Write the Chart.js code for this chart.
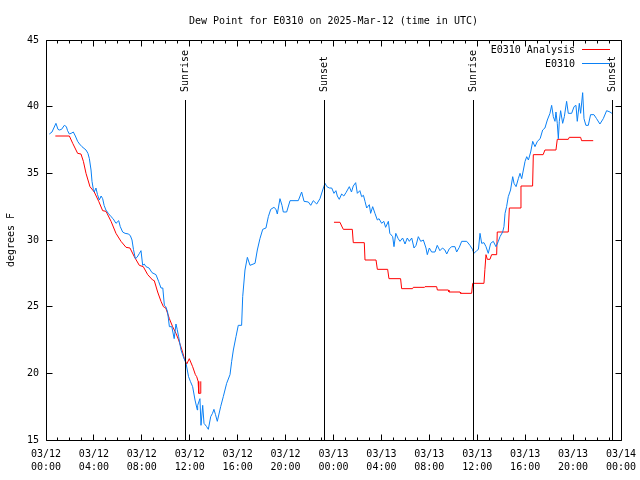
<!DOCTYPE html>
<html>
<head>
<meta charset="utf-8">
<title>Dew Point for E0310</title>
<script src="https://cdn.jsdelivr.net/npm/chart.js@4.4.1/dist/chart.umd.min.js"></script>
<style>
  html, body { margin: 0; padding: 0; background: #fff; }
</style>
</head>
<body>
<canvas id="dewChart" width="640" height="480"></canvas>
<script>
// dew point chart, hours since 03/12 00:00 UTC on x

const titleText = 'Dew Point for E0310 on 2025-Mar-12 (time in UTC)';

// station obs (E0310)
const obsHours = [0.28, 0.5, 0.83, 1.0, 1.11, 1.3, 1.53, 1.7, 1.8, 1.95, 2.1, 2.28, 2.45, 2.64, 2.8, 3.0, 3.34, 3.5, 3.62, 3.76,
  3.84, 3.95, 4.03, 4.17, 4.3, 4.45, 4.6, 4.73, 4.85, 5.0, 5.2, 5.43, 5.6, 5.84, 6.07, 6.2, 6.4, 6.6, 6.9, 7.05,
  7.18, 7.3, 7.46, 7.6, 7.8, 7.93, 8.07, 8.2, 8.35, 8.6, 8.85, 9.18, 9.4, 9.6, 9.75, 9.88, 10.0, 10.15, 10.3, 10.5,
  10.7, 10.85, 10.95, 11.07, 11.27, 11.46, 11.69, 11.9, 12.05, 12.24, 12.44, 12.63, 12.66, 12.85, 12.94, 13.08, 13.19, 13.41, 13.55, 13.75,
  13.9, 14.02, 14.15, 14.3, 14.58, 14.8, 15.08, 15.36, 15.5, 15.64, 15.86, 16.05, 16.33, 16.42, 16.61, 16.81, 17.03, 17.45, 17.64, 17.86,
  18.09, 18.36, 18.56, 18.76, 19.03, 19.2, 19.31, 19.53, 19.7, 19.81, 20.09, 20.37, 21.06, 21.34, 21.54, 21.9, 22.1, 22.31, 22.6, 22.87,
  23.1, 23.29, 23.45, 23.65, 23.85, 24.04, 24.2, 24.32, 24.48, 24.68, 24.86, 25.04, 25.32, 25.5, 25.65, 25.85, 25.99, 26.2, 26.35, 26.5,
  26.63, 26.77, 26.99, 27.1, 27.27, 27.46, 27.66, 27.8, 28.02, 28.2, 28.35, 28.58, 28.7, 28.94, 29.05, 29.2, 29.4, 29.55, 29.77, 29.97,
  30.16, 30.33, 30.53, 30.72, 30.89, 31.08, 31.28, 31.5, 31.72, 31.83, 32.0, 32.19, 32.47, 32.66, 32.88, 33.1, 33.3, 33.45, 33.67, 33.87,
  34.14, 34.28, 34.5, 34.7, 35.12, 35.39, 35.6, 35.73, 35.95, 36.1, 36.23, 36.37, 36.56, 36.73, 36.92, 37.12, 37.34, 37.56, 37.76, 37.9,
  38.12, 38.23, 38.32, 38.45, 38.59, 38.78, 38.96, 39.07, 39.24, 39.43, 39.57, 39.71, 39.85, 39.99, 40.13, 40.27, 40.46, 40.63, 40.82, 41.02,
  41.25, 41.46, 41.65, 41.85, 42.07, 42.21, 42.35, 42.49, 42.57, 42.68, 42.77, 42.85, 42.96, 43.13, 43.27, 43.46, 43.6, 43.88, 44.08, 44.24,
  44.35, 44.52, 44.63, 44.8, 44.91, 45.07, 45.27, 45.46, 45.74, 45.96, 46.24, 46.52, 46.8, 47.08, 47.24];
const obsDew = [37.95, 38.1, 38.75, 38.3, 38.25, 38.3, 38.6, 38.5, 38.2, 37.95, 38.0, 38.1, 37.8, 37.4, 37.2, 37.0, 36.75, 36.5, 36.1, 35.25,
  34.4, 33.8, 33.6, 33.9, 33.4, 33.0, 33.3, 33.1, 32.6, 32.25, 32.0, 31.75, 31.6, 31.25, 31.45, 31.0, 30.6, 30.5, 30.45, 30.3,
  30.0, 29.3, 28.6, 28.7, 29.0, 29.2, 28.1, 28.2, 28.0, 27.9, 27.55, 27.4, 26.9, 26.4, 26.4, 25.1, 25.0, 24.6, 23.5, 23.5,
  22.6, 23.7, 23.3, 22.75, 21.75, 21.25, 20.75, 19.75, 19.4, 19.0, 18.0, 17.25, 17.6, 18.1, 16.1, 17.6, 16.25, 16.0, 15.8, 16.75,
  17.0, 17.3, 16.9, 16.4, 17.5, 18.25, 19.25, 19.9, 20.9, 21.75, 22.75, 23.6, 23.6, 25.75, 27.75, 28.7, 28.1, 28.25, 29.25, 30.1,
  30.8, 30.9, 31.75, 32.3, 32.45, 32.3, 31.95, 33.1, 32.6, 32.1, 32.1, 32.95, 32.95, 33.6, 32.9, 32.85, 32.6, 32.95, 32.7, 33.1,
  33.75, 34.25, 34.0, 33.9, 33.9, 33.5, 33.7, 33.3, 33.05, 33.45, 33.3, 33.55, 34.0, 33.6, 34.05, 34.3, 33.5, 33.7, 33.25, 33.35,
  32.9, 32.4, 32.65, 32.0, 32.5, 32.0, 31.5, 31.6, 31.25, 31.4, 30.95, 31.4, 30.5, 30.25, 29.5, 30.5, 30.1, 29.9, 30.15, 29.7,
  30.15, 29.9, 30.15, 29.4, 29.6, 30.25, 29.9, 30.0, 29.4, 28.9, 29.4, 29.1, 29.1, 29.6, 29.2, 29.4, 29.25, 28.95, 29.35, 29.5,
  29.5, 29.1, 29.45, 29.9, 29.9, 29.6, 29.3, 29.0, 29.2, 29.3, 30.5, 29.75, 29.8, 29.5, 29.0, 29.75, 29.9, 29.5, 29.9, 30.25,
  30.6, 31.0, 32.0, 32.5, 33.25, 33.75, 34.75, 34.25, 34.0, 34.6, 35.0, 34.6, 35.25, 35.9, 36.25, 36.0, 36.6, 37.4, 37.0, 37.4,
  37.6, 38.25, 38.4, 39.0, 39.5, 40.1, 39.25, 38.9, 39.6, 38.75, 37.6, 38.9, 39.7, 38.75, 39.25, 40.4, 39.5, 39.5, 40.0, 40.1,
  38.9, 40.25, 39.5, 41.05, 39.1, 38.6, 38.6, 39.4, 39.4, 39.1, 38.7, 39.1, 39.7, 39.6, 39.5];

// analysis values (null = no data)
const anaHours = [0.78, 1.95, 2.23, 2.64, 2.92, 3.12, 3.34, 3.67, 4.03, 4.4, 4.73, 5.01, 5.43, 5.84, 6.26, 6.68, 7.01, 7.37, 7.79, 8.12,
  8.49, 8.9, 9.04, 9.32, 9.6, 9.8, 10.0, 10.3, 10.57, 10.85, 11.07, 11.35, 11.55, 11.75, 11.96, 12.24, 12.47, 12.58, 12.7, 12.75,
  12.88, 12.92, 18.0,
  24.04, 24.54, 24.68, 24.82, 25.57, 25.65, 26.57, 26.63, 27.55, 27.66, 28.52, 28.63, 29.6, 29.69, 30.6, 30.66, 31.6, 31.64, 32.61, 32.67,
  33.59, 33.64, 34.56, 34.61, 35.53, 35.62, 36.56, 36.64, 36.73, 36.84, 37.06, 37.2, 37.62, 37.67, 38.59, 38.68, 39.57, 39.65, 40.62, 40.68,
  41.5, 41.65, 42.57, 42.68, 43.6, 43.68, 44.63, 44.71, 45.68];
const anaDew = [37.8, 37.8, 37.25, 36.5, 36.45, 35.9, 35.0, 34.0, 33.6, 32.9, 32.2, 32.15, 31.4, 30.5, 29.9, 29.45, 29.4, 28.75, 28.1, 28.0,
  27.4, 27.0, 26.95, 26.1, 25.4, 25.0, 24.9, 24.1, 23.5, 23.0, 22.5, 21.75, 21.1, 20.7, 21.1, 20.5, 19.9, 19.75, 19.4, 18.5,
  18.5, 19.4, null,
  31.33, 31.33, 31.05, 30.8, 30.8, 29.8, 29.8, 28.5, 28.5, 27.8, 27.8, 27.1, 27.1, 26.35, 26.35, 26.45, 26.45, 26.5, 26.5, 26.25,
  26.25, 26.1, 26.1, 26.0, 26.0, 26.75, 26.75, 27.8, 28.9, 28.55, 28.55, 28.9, 28.9, 30.6, 30.6, 32.4, 32.4, 34.05, 34.05, 36.4,
  36.4, 36.75, 36.75, 37.55, 37.55, 37.7, 37.7, 37.45, 37.45];

// sunrise / sunset (hours)
const sunHours = [11.65, 23.25, 35.65, 47.3];
const sunNames = ['Sunrise', 'Sunset', 'Sunrise', 'Sunset'];

// axis labels
const dayLabels = ['03/12', '03/12', '03/12', '03/12', '03/12', '03/12', '03/13', '03/13', '03/13', '03/13', '03/13', '03/13', '03/14'];
const timeLabels = ['00:00', '04:00', '08:00', '12:00', '16:00', '20:00', '00:00', '04:00', '08:00', '12:00', '16:00', '20:00', '00:00'];
const yTicks = [15, 20, 25, 30, 35, 40, 45];

const FONT = "'DejaVu Sans Mono', 'Liberation Mono', monospace";
const RED = '#ff0000';
const BLUE = '#0a80f5';

function toPoints(xs, ys) {
    return xs.map((h, i) => ({ x: h, y: ys[i] }));
}

// gnuplot style frame, inward ticks, sun lines, key and title
const gnuplotLook = {
    id: 'gnuplotLook',
    afterDraw(chart) {
        const ctx = chart.ctx;
        const a = chart.chartArea;
        const xs = chart.scales.x;
        const ys = chart.scales.y;
        const L = Math.floor(a.left) + 0.5, R = Math.floor(a.right) + 0.5;
        const T = Math.floor(a.top) + 0.5, B = Math.floor(a.bottom) + 0.5;
        ctx.save();
        ctx.strokeStyle = '#000';
        ctx.lineWidth = 1;
        ctx.beginPath();
        ctx.rect(L, T, R - L, B - T);
        // x ticks every hour, longer every 4h
        for (let h = 0; h <= 48; h++) {
            const px = Math.floor(xs.getPixelForValue(h)) + 0.5;
            const len = h % 4 === 0 ? 6 : 3;
            ctx.moveTo(px, B); ctx.lineTo(px, B - len);
            ctx.moveTo(px, T); ctx.lineTo(px, T + len);
        }
        yTicks.forEach(v => {
            const py = Math.floor(ys.getPixelForValue(v)) + 0.5;
            ctx.moveTo(L, py); ctx.lineTo(L + 6, py);
            ctx.moveTo(R, py); ctx.lineTo(R - 6, py);
        });
        // sun lines
        sunHours.forEach(h => {
            const px = Math.floor(xs.getPixelForValue(h)) + 0.5;
            ctx.moveTo(px, 100); ctx.lineTo(px, B);
        });
        ctx.stroke();

        ctx.fillStyle = '#000';
        ctx.font = '10px ' + FONT;
        sunHours.forEach((h, i) => {
            const px = Math.floor(xs.getPixelForValue(h)) + 0.5;
            ctx.save();
            ctx.translate(px, 92);
            ctx.rotate(-Math.PI / 2);
            ctx.textAlign = 'left';
            ctx.textBaseline = 'middle';
            ctx.fillText(sunNames[i], 0, 0);
            ctx.restore();
        });

        // key
        const keys = [['E0310 Analysis', RED, 49], ['E0310', BLUE, 63]];
        ctx.textAlign = 'right';
        ctx.textBaseline = 'middle';
        keys.forEach(k => {
            ctx.fillText(k[0], 575, k[2] + 1);
            ctx.strokeStyle = k[1];
            ctx.beginPath();
            ctx.moveTo(582, k[2] + 0.5);
            ctx.lineTo(610, k[2] + 0.5);
            ctx.stroke();
        });

        // title
        ctx.textAlign = 'center';
        ctx.fillText(titleText, (a.left + a.right) / 2, 21);
        ctx.restore();
    }
};

document.addEventListener('DOMContentLoaded', function () {
    const ctx = document.getElementById('dewChart').getContext('2d');
    new Chart(ctx, {
        type: 'scatter',
        data: {
            datasets: [{
                label: 'E0310',
                data: toPoints(obsHours, obsDew),
                showLine: true,
                borderColor: BLUE,
                borderWidth: 1,
                pointRadius: 0,
                tension: 0
            }, {
                label: 'E0310 Analysis',
                data: toPoints(anaHours, anaDew),
                showLine: true,
                spanGaps: false,
                borderColor: RED,
                borderWidth: 1,
                pointRadius: 0,
                tension: 0
            }]
        },
        options: {
            responsive: false,
            animation: false,
            devicePixelRatio: 1,
            layout: { padding: { top: 40, right: 19, left: 0, bottom: 0 } },
            plugins: {
                legend: { display: false },
                tooltip: { enabled: false },
                title: { display: false }
            },
            scales: {
                x: {
                    type: 'linear',
                    min: 0,
                    max: 48,
                    grid: { display: false, drawTicks: false },
                    border: { display: false },
                    ticks: {
                        stepSize: 4,
                        autoSkip: false,
                        maxRotation: 0,
                        padding: 8,
                        color: '#000',
                        font: { family: FONT, size: 10, lineHeight: 1.27 },
                        callback: (v) => [dayLabels[v / 4], timeLabels[v / 4]]
                    },
                    afterFit: (s) => { s.height = 40; s.paddingLeft = 0; s.paddingRight = 0; }
                },
                y: {
                    min: 15,
                    max: 45,
                    grid: { display: false, drawTicks: false },
                    border: { display: false },
                    ticks: {
                        stepSize: 5,
                        padding: 7,
                        color: '#000',
                        font: { family: FONT, size: 10 }
                    },
                    title: {
                        display: true,
                        text: 'degrees F',
                        color: '#000',
                        font: { family: FONT, size: 10 },
                        padding: { top: 5, bottom: 0 }
                    },
                    afterFit: (s) => { s.width = 46; s.paddingTop = 0; s.paddingBottom = 0; }
                }
            }
        },
        plugins: [gnuplotLook]
    });
});
</script>
</body>
</html>
